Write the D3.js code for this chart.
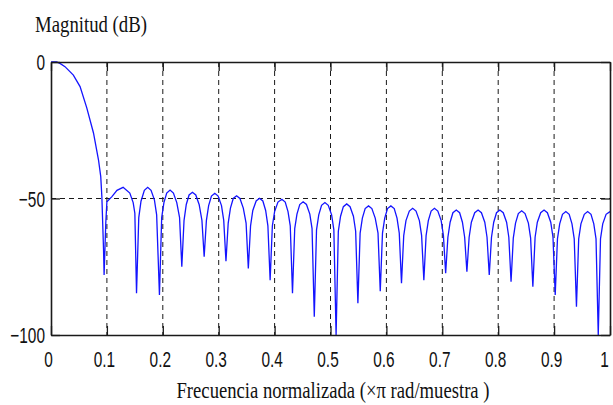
<!DOCTYPE html>
<html>
<head>
<meta charset="utf-8">
<script src="https://cdn.jsdelivr.net/npm/d3@7"></script>
<style>
  body { margin: 0; background: #fff; }
</style>
</head>
<body>
<svg width="613" height="405"></svg>
<script>
// normalized frequency (x pi rad/sample), grouped by lobe
var freq = [
  0, 0.010, 0.016, 0.025, 0.040, 0.052, 0.064, 0.076, 0.085, 0.089, 0.091, 0.094, 0.095,
  0.098, 0.100, 0.109, 0.118, 0.129, 0.141, 0.147, 0.150, 0.153,
  0.157, 0.161, 0.167, 0.173, 0.179, 0.185, 0.189, 0.194,
  0.198, 0.202, 0.207, 0.213, 0.219, 0.225, 0.230, 0.234,
  0.238, 0.242, 0.247, 0.253, 0.259, 0.265, 0.270, 0.274,
  0.278, 0.282, 0.287, 0.293, 0.299, 0.305, 0.309, 0.313,
  0.317, 0.321, 0.326, 0.332, 0.338, 0.344, 0.349, 0.353,
  0.357, 0.361, 0.367, 0.373, 0.379, 0.384, 0.388, 0.392,
  0.396, 0.400, 0.406, 0.413, 0.419, 0.424, 0.428, 0.432,
  0.436, 0.440, 0.445, 0.451, 0.457, 0.463, 0.467, 0.471,
  0.475, 0.479, 0.484, 0.490, 0.496, 0.502, 0.506, 0.510,
  0.514, 0.518, 0.523, 0.529, 0.535, 0.541, 0.545, 0.549,
  0.553, 0.557, 0.562, 0.568, 0.574, 0.580, 0.585, 0.589,
  0.593, 0.597, 0.602, 0.608, 0.614, 0.619, 0.623, 0.627,
  0.631, 0.635, 0.641, 0.647, 0.653, 0.659, 0.663, 0.667,
  0.671, 0.675, 0.680, 0.686, 0.692, 0.698, 0.702, 0.706,
  0.710, 0.714, 0.719, 0.725, 0.731, 0.736, 0.740, 0.744,
  0.748, 0.752, 0.758, 0.764, 0.770, 0.776, 0.780, 0.784,
  0.788, 0.792, 0.797, 0.803, 0.809, 0.815, 0.819, 0.823,
  0.827, 0.831, 0.836, 0.842, 0.848, 0.854, 0.858, 0.862,
  0.866, 0.870, 0.876, 0.882, 0.888, 0.894, 0.898, 0.902,
  0.906, 0.910, 0.915, 0.921, 0.927, 0.932, 0.936, 0.940,
  0.944, 0.948, 0.954, 0.960, 0.966, 0.971, 0.975, 0.979,
  0.983, 0.987, 0.993, 1.000
];

// magnitude (dB), same layout as freq
var magDb = [
  0, 0, -0.5, -1.7, -4.8, -9.0, -16.8, -26.0, -35.9, -42.0, -49.4, -68.9, -78.0,
  -59.0, -51.2, -49.3, -47.0, -45.9, -48.0, -51.5, -55.4, -84.7,
  -57.0, -51.0, -47.0, -45.9, -47.0, -50.5, -56.0, -85.3,
  -57.0, -51.5, -48.0, -46.9, -48.0, -51.5, -57.0, -75.0,
  -58.0, -52.2, -48.7, -47.7, -48.7, -52.2, -58.0, -71.3,
  -58.0, -52.6, -49.1, -48.1, -49.1, -52.6, -58.0, -73.0,
  -59.0, -53.5, -50.0, -49.0, -50.0, -53.5, -59.0, -75.6,
  -60.0, -54.4, -50.9, -49.9, -50.9, -54.4, -60.0, -79.9,
  -60.0, -54.8, -51.3, -50.3, -51.3, -54.8, -60.0, -84.7,
  -61.0, -55.7, -52.2, -51.2, -52.2, -55.7, -61.0, -93.3,
  -61.5, -56.0, -52.5, -51.5, -52.5, -56.0, -61.5, -100,
  -62.0, -56.5, -53.0, -52.0, -53.0, -56.5, -62.0, -88.4,
  -62.7, -57.2, -53.7, -52.7, -53.7, -57.2, -62.7, -84.0,
  -62.7, -57.2, -53.7, -52.7, -53.7, -57.2, -62.7, -81.0,
  -63.6, -58.1, -54.6, -53.6, -54.6, -58.1, -63.6, -79.9,
  -63.6, -58.1, -54.6, -53.6, -54.6, -58.1, -63.6, -77.4,
  -64.2, -58.7, -55.2, -54.2, -55.2, -58.7, -64.2, -76.8,
  -64.2, -58.7, -55.2, -54.2, -55.2, -58.7, -64.2, -78.0,
  -64.2, -58.7, -55.2, -54.2, -55.2, -58.7, -64.2, -80.5,
  -64.5, -59.0, -55.5, -54.5, -55.5, -59.0, -64.5, -82.3,
  -64.2, -58.7, -55.2, -54.2, -55.2, -58.7, -64.2, -85.3,
  -64.8, -59.3, -55.8, -54.8, -55.8, -59.3, -64.8, -89.6,
  -64.8, -59.3, -55.8, -54.8, -55.8, -59.3, -64.8, -100,
  -64.8, -59.3, -55.8, -54.8
];

var xTicks = [0, 0.1, 0.2, 0.3, 0.4, 0.5, 0.6, 0.7, 0.8, 0.9, 1];
var yTicks = [-100, -50, 0];
var xGrid = [0.1, 0.2, 0.3, 0.4, 0.5, 0.6, 0.7, 0.8, 0.9];
var yGrid = [-50];

var svg = d3.select("svg"),
  margin = { top: 62, right: 3, bottom: 70, left: 51 },
  width = +svg.attr("width") - margin.left - margin.right,
  height = +svg.attr("height") - margin.top - margin.bottom;

var x = d3.scaleLinear().domain([0, 1]).range([0, width]);
var y = d3.scaleLinear().domain([-100, 0]).range([height, 0]);

var g = svg.append("g")
  .attr("transform", "translate(" + margin.left + "," + margin.top + ")");

svg.append("defs").append("clipPath").attr("id", "plotclip")
  .append("rect").attr("x", 0).attr("y", -1).attr("width", width).attr("height", height + 1);

// dashed grid
g.selectAll(".vgrid").data(xGrid).enter().append("line")
  .attr("x1", function (d) { return x(d); }).attr("x2", function (d) { return x(d); })
  .attr("y1", 0).attr("y2", height)
  .attr("stroke", "#1a1a1a").attr("stroke-width", 1).attr("stroke-dasharray", "5,4");
g.selectAll(".hgrid").data(yGrid).enter().append("line")
  .attr("x1", 0).attr("x2", width)
  .attr("y1", function (d) { return y(d); }).attr("y2", function (d) { return y(d); })
  .attr("stroke", "#1a1a1a").attr("stroke-width", 1).attr("stroke-dasharray", "5,4");

// response curve
var pts = freq.map(function (f, i) { return [f, magDb[i]]; });
var line = d3.line()
  .x(function (d) { return x(d[0]); })
  .y(function (d) { return y(d[1]); });

g.append("path")
  .datum(pts)
  .attr("clip-path", "url(#plotclip)")
  .attr("fill", "none")
  .attr("stroke", "#1414ff")
  .attr("stroke-width", 1.3)
  .attr("d", line);

// axes
var fmtX = function (d) { return d === 0 ? "0" : d === 1 ? "1" : d3.format(".1f")(d); };

var xAxis = g.append("g")
  .attr("transform", "translate(0," + height + ")")
  .call(d3.axisBottom(x).tickValues(xTicks).tickFormat(fmtX).tickSizeInner(-9).tickSizeOuter(0).tickPadding(32));
var yAxis = g.append("g")
  .call(d3.axisLeft(y).tickValues(yTicks).tickSizeInner(-9).tickSizeOuter(0).tickPadding(6));
g.append("g")
  .call(d3.axisTop(x).tickValues(xTicks).tickFormat("").tickSizeInner(-9).tickSizeOuter(0));
g.append("g")
  .attr("transform", "translate(" + width + ",0)")
  .call(d3.axisRight(y).tickValues(yTicks).tickFormat("").tickSizeInner(-9).tickSizeOuter(0));

g.selectAll(".domain").attr("stroke", "#1a1a1a").attr("stroke-width", 1.6);
g.selectAll(".tick line").attr("stroke", "#1a1a1a").attr("stroke-width", 1.3);

g.selectAll(".tick text")
  .attr("font-family", "'Liberation Sans', Arial, sans-serif")
  .attr("font-size", 22)
  .attr("fill", "#111")
  .each(function () {
    var L = this.getComputedTextLength();
    if (L > 0) d3.select(this).attr("textLength", L * 0.7).attr("lengthAdjust", "spacingAndGlyphs");
  });
xAxis.selectAll(".tick text").attr("dy", 0)
  .attr("dx", function (d) { return d === 1 ? -6 : -3; });
yAxis.selectAll(".tick text").attr("dy", "0.36em");

// titles
svg.append("text")
  .attr("x", 35).attr("y", 32)
  .attr("font-family", "'Liberation Serif', 'DejaVu Serif', 'Times New Roman', serif")
  .attr("font-size", 24)
  .attr("fill", "#111")
  .attr("textLength", 112).attr("lengthAdjust", "spacingAndGlyphs")
  .text("Magnitud (dB)");

svg.append("text")
  .attr("x", 333).attr("y", 398)
  .attr("text-anchor", "middle")
  .attr("font-family", "'Liberation Serif', 'DejaVu Serif', 'Times New Roman', serif")
  .attr("font-size", 24)
  .attr("fill", "#111")
  .attr("textLength", 313).attr("lengthAdjust", "spacingAndGlyphs")
  .text("Frecuencia normalizada (\u00d7\u03c0 rad/muestra )");
</script>
</body>
</html>
